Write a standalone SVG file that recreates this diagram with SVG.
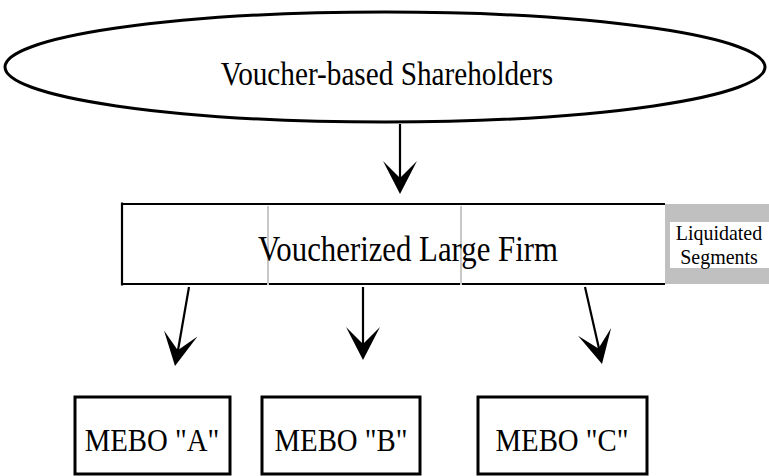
<svg xmlns="http://www.w3.org/2000/svg" width="769" height="476" viewBox="0 0 769 476">
<style>
.t{font-family:"Liberation Serif","Times New Roman",serif;fill:#000;text-anchor:middle}
.box{fill:#fff;stroke:#000;stroke-width:3}
.ln{stroke:#000;stroke-width:2.2;fill:none}
.sep{stroke:#c8c8c8;stroke-width:2}
</style>
<defs>
<path id="head" d="M0,0 L-17,-33 L0,-16 L17,-33 Z" fill="#000"/>
</defs>
<rect width="769" height="476" fill="#fff"/>
<g id="shareholders">
<ellipse cx="385" cy="67" rx="380" ry="55" fill="#fff" stroke="#000" stroke-width="3"/>
<text class="t" transform="translate(387,85) scale(0.86,1)" font-size="34">Voucher-based Shareholders</text>
</g>
<g id="firm">
<rect x="665" y="204" width="104" height="80" fill="#c0c0c0"/>
<rect x="122" y="204" width="543" height="80" fill="#fff"/>
<line x1="122" y1="204" x2="665" y2="204" class="ln" stroke-width="3"/>
<line x1="122" y1="284" x2="665" y2="284" class="ln" stroke-width="3"/>
<line x1="122" y1="202.5" x2="122" y2="285.5" class="ln" stroke-width="3"/>
<line class="sep" x1="268" y1="206" x2="268" y2="285"/>
<line class="sep" x1="461" y1="206" x2="461" y2="285"/>
<text class="t" transform="translate(408,261) scale(0.88,1)" font-size="35">Voucherized Large Firm</text>
</g>
<g id="liquidated">
<rect x="670" y="222" width="99" height="46" fill="#fff"/>
<text class="t" transform="translate(719,240) scale(0.95,1)" font-size="21">Liquidated</text>
<text class="t" transform="translate(719,264) scale(0.95,1)" font-size="21">Segments</text>
</g>
<g id="mebo-a">
<rect class="box" x="75" y="397" width="155" height="77"/>
<text class="t" transform="translate(152,451) scale(0.9,1)" font-size="32">MEBO "A"</text>
</g>
<g id="mebo-b">
<rect class="box" x="262" y="397" width="158" height="77"/>
<text class="t" transform="translate(341,451) scale(0.9,1)" font-size="32">MEBO "B"</text>
</g>
<g id="mebo-c">
<rect class="box" x="478" y="397" width="169" height="77"/>
<text class="t" transform="translate(562,451) scale(0.9,1)" font-size="32">MEBO "C"</text>
</g>
<g id="connectors">
<line class="ln" x1="400" y1="124" x2="400" y2="185"/>
<use href="#head" transform="translate(400,194)"/>
<line class="ln" x1="189" y1="287" x2="177" y2="356"/>
<use href="#head" transform="translate(175,366) rotate(10)"/>
<line class="ln" x1="363" y1="287" x2="363" y2="350"/>
<use href="#head" transform="translate(363,360)"/>
<line class="ln" x1="585" y1="287" x2="600" y2="353"/>
<use href="#head" transform="translate(602,364) rotate(-13)"/>
</g>
</svg>
